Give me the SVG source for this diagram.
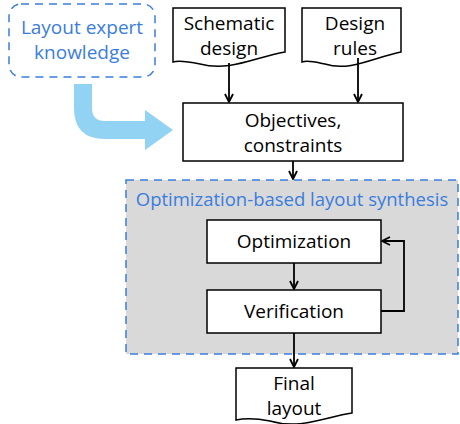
<svg xmlns="http://www.w3.org/2000/svg" width="460" height="424" viewBox="0 0 460 424">
<style>
.t{font-family:"Open Sans","Noto Sans",sans-serif;font-size:19px;fill:#000;text-anchor:middle}
.bl{fill:#3b7ddd}
.box{fill:#fff;stroke:#000;stroke-width:1.5}
.c{fill:none;stroke:#000;stroke-width:1.8}
.dash{stroke:#3b7ddd;stroke-width:1.5;stroke-dasharray:8,6}
</style>
<defs>
<marker id="ah" viewBox="0 0 10 10" refX="9" refY="5" markerWidth="10" markerHeight="10" markerUnits="userSpaceOnUse" orient="auto">
<path d="M1,1 L9,5 L1,9" fill="none" stroke="#000" stroke-width="1.8"/>
</marker>
</defs>
<g id="region">
<rect class="dash" x="126" y="180" width="332" height="174" fill="#d9d9d9"/>
<text class="t bl" x="292" y="206" style="font-size:18.5px">Optimization-based layout synthesis</text>
</g>
<g id="knowledge">
<rect class="dash" x="9" y="4" width="146" height="73" rx="12" fill="#fff"/>
<text class="t bl" x="82" y="34">Layout expert</text>
<text class="t bl" x="82" y="59">knowledge</text>
</g>
<g id="bigarrow">
<path d="M74,84 H92 V108 Q92,121 105,121 H145 V110 L173,130 L145,150 V139 H105 Q74,139 74,108 Z" fill="#92d2f2"/>
</g>
<g id="schematic">
<path class="box" d="M173,8 H285 V52 C255,57 230,72 200,64 C190,62 180,60 173,62 Z"/>
<text class="t" x="229" y="30">Schematic</text>
<text class="t" x="229" y="55">design</text>
</g>
<g id="rules">
<path class="box" d="M302,8 H401 V52 C375,57 350,72 325,64 C315,62 308,60 302,62 Z"/>
<text class="t" x="355" y="30">Design</text>
<text class="t" x="355" y="55">rules</text>
</g>
<g id="objectives">
<rect class="box" x="183" y="103" width="220" height="58"/>
<text class="t" x="293" y="127">Objectives,</text>
<text class="t" x="293" y="152">constraints</text>
</g>
<g id="optimization">
<rect class="box" x="207" y="220" width="174" height="43"/>
<text class="t" x="294" y="248">Optimization</text>
</g>
<g id="verification">
<rect class="box" x="207" y="290" width="174" height="43"/>
<text class="t" x="294" y="318">Verification</text>
</g>
<g id="final">
<path class="box" d="M236,368 H352 V413 C325,417 300,430 270,421 C255,418 245,418 236,420 Z"/>
<text class="t" x="294" y="390">Final</text>
<text class="t" x="294" y="415">layout</text>
</g>
<g id="connectors">
<path class="c" d="M229,63 V102" marker-end="url(#ah)"/>
<path class="c" d="M358,58 V102" marker-end="url(#ah)"/>
<path class="c" d="M293,161 V179" marker-end="url(#ah)"/>
<path class="c" d="M294,263 V289" marker-end="url(#ah)"/>
<path class="c" d="M381,311 H404 V241 H382" marker-end="url(#ah)"/>
<path class="c" d="M294,333 V367" marker-end="url(#ah)"/>
</g>
</svg>
